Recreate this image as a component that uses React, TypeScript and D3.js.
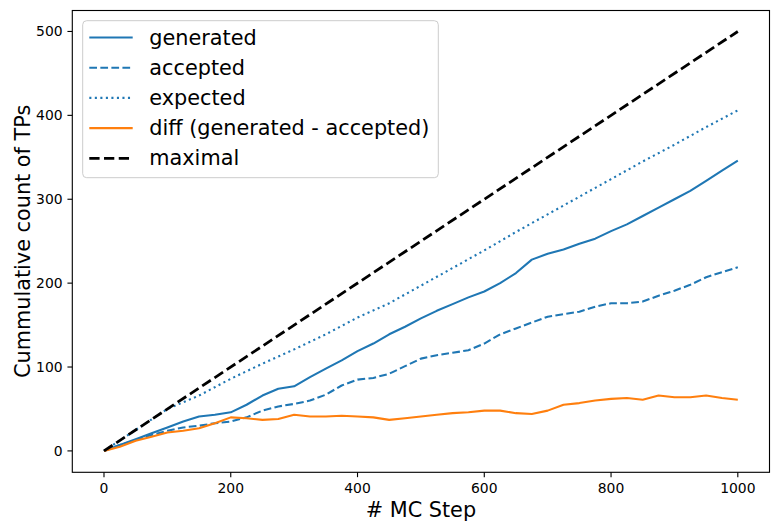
import React from "react";
import * as d3 from "d3";

// Sampled Monte Carlo step positions (every 25 steps) for the cumulative series
const steps25: number[] = d3.range(0, 1001, 25);
const generated: number[] = [
  0, 7, 14, 21, 28, 35, 41, 43, 46, 55, 66, 74, 77, 88, 98, 108, 119, 128, 139, 148,
  158, 167, 175, 183, 190, 200, 212, 228, 235, 240, 247, 253, 262, 270, 280, 290, 300,
  310, 322, 334, 346,
];
const accepted: number[] = [
  0, 7, 13, 19, 24, 28, 30, 33, 35, 40, 48, 53, 56, 60, 67, 78, 85, 87, 92, 101, 110,
  114, 117, 120, 128, 139, 146, 153, 160, 163, 166, 172, 176, 176, 178, 185, 191, 198,
  207, 213, 219,
];
const diff: number[] = [
  0, 5, 12, 17, 22, 24, 27, 33, 40, 39, 37, 38, 43, 41, 41, 42, 41, 40, 37, 39, 41, 43,
  45, 46, 48, 48, 45, 44, 48, 55, 57, 60, 62, 63, 61, 66, 64, 64, 66, 63, 61,
];
// Expected count sampled every 50 steps
const steps50: number[] = d3.range(0, 1001, 50);
const expected: number[] = [
  0, 25, 50, 66, 86, 104, 121, 139, 159, 176, 197, 218, 239, 261, 282, 303, 324, 345,
  365, 386, 406,
];
// Upper bound: one TP every second step
const maximalSteps: number[] = [0, 1000];
const maximal: number[] = [0, 500];

const xTicks: number[] = [0, 200, 400, 600, 800, 1000];
const yTicks: number[] = [0, 100, 200, 300, 400, 500];

const W = 779;
const H = 531;
const left = 72.3;
const right = 769.5;
const top = 10.5;
const bottom = 472.3;

const BLUE = "#1f77b4";
const ORANGE = "#ff7f0e";
const FONT = "DejaVu Sans, sans-serif";
const PT = 100 / 72;

export default function App() {
  const x = d3.scaleLinear().domain([-50, 1050]).range([left, right]);
  const y = d3.scaleLinear().domain([-25.5, 525]).range([bottom, top]);

  const line = (xs: number[], ys: number[]) =>
    d3
      .line<number>()
      .x((_, i) => x(xs[i]))
      .y((d) => y(d))(ys) || "";

  const lw = 1.5 * PT;
  const lwMax = 2 * PT;
  const series = [
    { label: "generated", xs: steps25, ys: generated, color: BLUE, width: lw, dash: "none" },
    { label: "accepted", xs: steps25, ys: accepted, color: BLUE, width: lw, dash: `${3.7 * lw},${1.6 * lw}` },
    { label: "expected", xs: steps50, ys: expected, color: BLUE, width: lw, dash: `${lw},${1.65 * lw}` },
    { label: "diff (generated - accepted)", xs: steps25, ys: diff, color: ORANGE, width: lw, dash: "none" },
    { label: "maximal", xs: maximalSteps, ys: maximal, color: "#000000", width: lwMax, dash: `${3.7 * lwMax},${1.6 * lwMax}` },
  ];

  const legX = 82.7;
  const legY = 20.7;
  const legW = 355.6;
  const legH = 157;
  const rowY0 = 37.5;
  const rowGap = 30.2;
  const axW = 0.8 * PT;
  const tickLen = 3.5 * PT;

  return (
    <svg
      width={W}
      height={H}
      style={{ position: "absolute", left: 0, top: 0, background: "#ffffff" }}
      fontFamily={FONT}
    >
      <rect x={0} y={0} width={W} height={H} fill="#ffffff" />
      {series.map((s) => (
        <path
          key={s.label}
          d={line(s.xs, s.ys)}
          fill="none"
          stroke={s.color}
          strokeWidth={s.width}
          strokeDasharray={s.dash}
          strokeLinejoin="round"
        />
      ))}

      {/* frame */}
      <rect
        x={left}
        y={top}
        width={right - left}
        height={bottom - top}
        fill="none"
        stroke="#000"
        strokeWidth={axW}
      />

      {/* x axis */}
      {xTicks.map((t) => (
        <g key={`x${t}`}>
          <line x1={x(t)} x2={x(t)} y1={bottom} y2={bottom + tickLen} stroke="#000" strokeWidth={axW} />
          <text x={x(t)} y={bottom + 20.5} textAnchor="middle" fontSize={13.9} fill="#000">
            {t}
          </text>
        </g>
      ))}
      {/* y axis */}
      {yTicks.map((t) => (
        <g key={`y${t}`}>
          <line x1={left - tickLen} x2={left} y1={y(t)} y2={y(t)} stroke="#000" strokeWidth={axW} />
          <text
            x={left - 9.7}
            y={y(t)}
            textAnchor="end"
            dominantBaseline="central"
            fontSize={13.9}
            fill="#000"
          >
            {t}
          </text>
        </g>
      ))}

      <text x={(left + right) / 2} y={517} textAnchor="middle" fontSize={20.8} fill="#000">
        # MC Step
      </text>
      <text
        transform={`translate(30, ${(top + bottom) / 2}) rotate(-90)`}
        textAnchor="middle"
        fontSize={20.8}
        fill="#000"
      >
        Cummulative count of TPs
      </text>

      {/* legend */}
      <rect
        x={legX}
        y={legY}
        width={legW}
        height={legH}
        rx={4}
        fill="#ffffff"
        fillOpacity={0.8}
        stroke="#cccccc"
        strokeWidth={1}
      />
      {series.map((s, i) => {
        const ry = rowY0 + i * rowGap;
        return (
          <g key={`leg${s.label}`}>
            <line
              x1={89.3}
              x2={132.7}
              y1={ry}
              y2={ry}
              stroke={s.color}
              strokeWidth={s.width}
              strokeDasharray={s.dash}
            />
            <text x={149.3} y={ry} dominantBaseline="central" fontSize={20.8} fill="#000">
              {s.label}
            </text>
          </g>
        );
      })}
    </svg>
  );
}
